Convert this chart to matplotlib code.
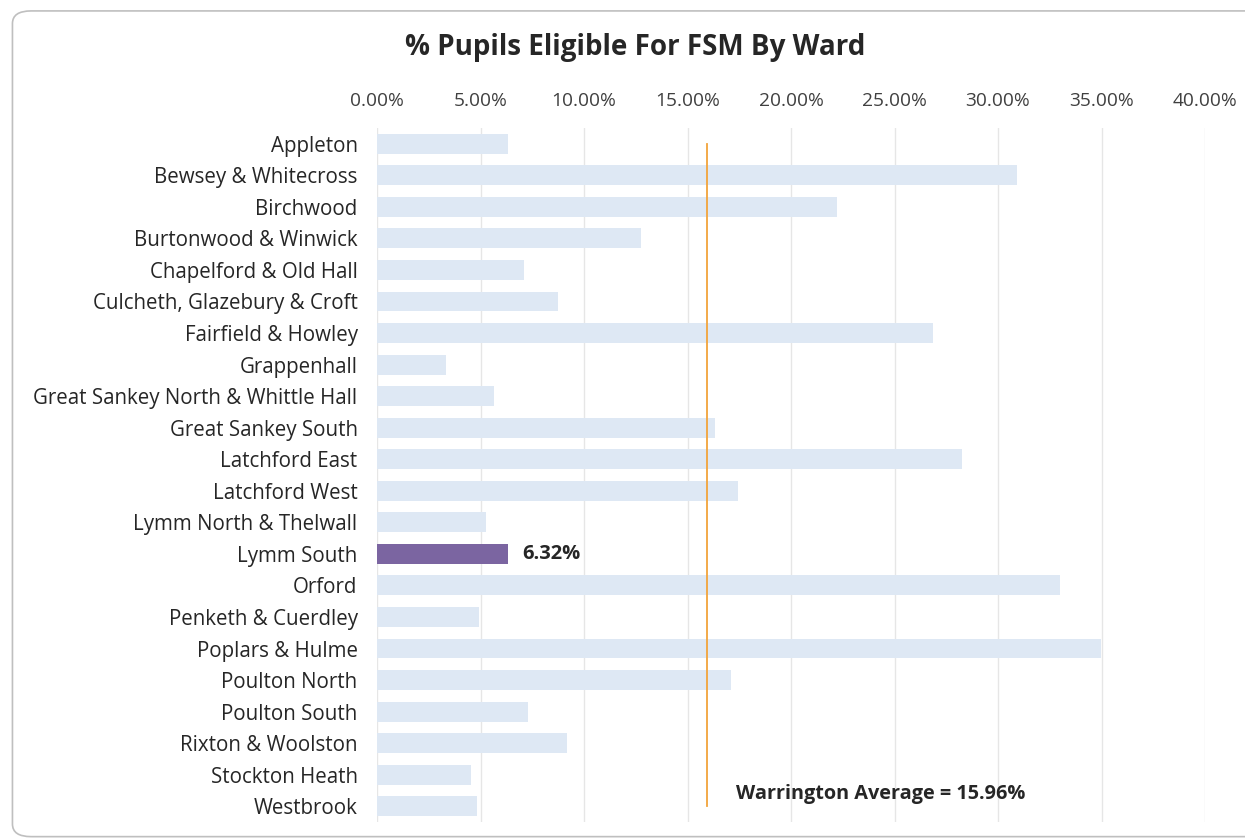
import matplotlib.pyplot as plt
from matplotlib.patches import FancyBboxPatch
from matplotlib.ticker import PercentFormatter

plt.rcParams['font.family'] = ['Open Sans', 'DejaVu Sans']

# =========================================
# DATA
# =========================================
wards = [
    "Appleton", "Bewsey & Whitecross", "Birchwood", "Burtonwood & Winwick",
    "Chapelford & Old Hall", "Culcheth, Glazebury & Croft", "Fairfield & Howley",
    "Grappenhall", "Great Sankey North & Whittle Hall", "Great Sankey South",
    "Latchford East", "Latchford West", "Lymm North & Thelwall", "Lymm South",
    "Orford", "Penketh & Cuerdley", "Poplars & Hulme", "Poulton North",
    "Poulton South", "Rixton & Woolston", "Stockton Heath", "Westbrook",
]
fsm_pct = [
    6.33, 30.9, 22.2, 12.75, 7.1, 8.74, 26.86, 3.35, 5.65, 16.33, 28.26,
    17.44, 5.27, 6.32, 33.0, 4.93, 34.98, 17.1, 7.29, 9.18, 4.54, 4.83,
]
highlight = "Lymm South"
average = 15.96

BASE = "#DEE8F4"
HIGHLIGHT = "#7B65A1"
AVG = "#F2A43A"

# =========================================
# FIGURE
# =========================================
fig = plt.figure(figsize=(12.45, 8.4), dpi=100)
fig.patches.append(FancyBboxPatch((0.010, 0.004), 1.02, 0.983,
                                  boxstyle="round,pad=0,rounding_size=0.015",
                                  transform=fig.transFigure, fill=False,
                                  edgecolor="#BFBFBF", linewidth=1.2))

ax = fig.add_axes([377 / 1245, 1 - 822 / 840, (1205 - 377) / 1245, (822 - 128) / 840])

colors = [HIGHLIGHT if w == highlight else BASE for w in wards]
ypos = list(range(len(wards)))
ax.barh(ypos, fsm_pct, height=0.63, color=colors, zorder=2)

# label on highlighted bar
i = wards.index(highlight)
ax.text(fsm_pct[i] + 0.7, i, f"{fsm_pct[i]:.2f}%", va="center", ha="left",
        fontsize=14.5, fontweight="bold", color="#262626")

# average line
ax.plot([average, average], [0, 21], color=AVG, linewidth=1.3, zorder=3)
ax.text(average + 1.4, 20.6, f"Warrington Average = {average:.2f}%",
        fontsize=14.3, fontweight="bold", color="#262626", va="center")

ax.set_xlim(0, 40)
ax.set_ylim(21.5, -0.5)
ax.set_yticks(ypos)
ax.set_yticklabels(wards, fontsize=14.8, color="#262626")
ax.set_xticks(range(0, 41, 5))
ax.xaxis.set_major_formatter(PercentFormatter(decimals=2))
ax.xaxis.tick_top()
ax.tick_params(axis="x", labelsize=13.8, colors="#404040", length=0, pad=13)
ax.tick_params(axis="y", length=0, pad=14)

ax.grid(axis="x", color="#E6E6E6", linewidth=1, zorder=0)
for s in ax.spines.values():
    s.set_visible(False)

fig.text(635 / 1245, 1 - 48 / 840, "% Pupils Eligible For FSM By Ward",
         ha="center", va="center", fontsize=20, fontweight="bold", color="#262626")

fig.savefig("out.png", dpi=100)
